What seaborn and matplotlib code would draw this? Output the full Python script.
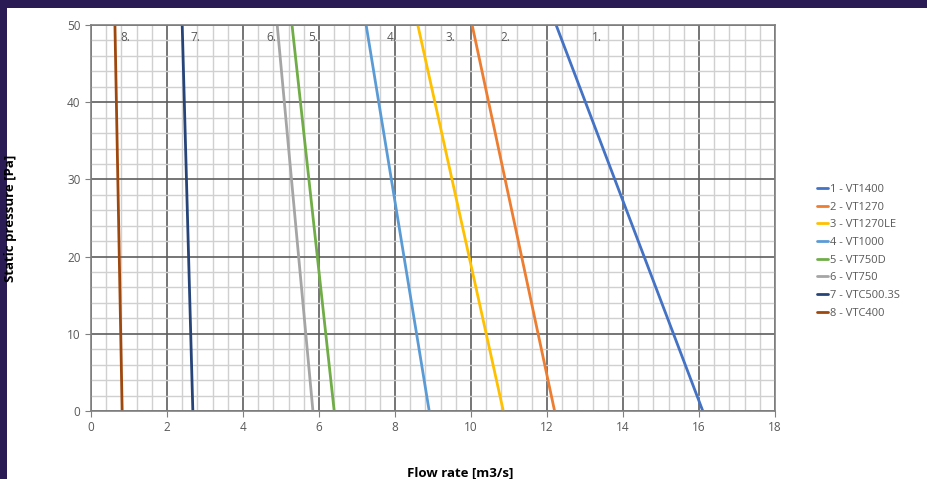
import numpy as np
import pandas as pd
import matplotlib
matplotlib.use("Agg")
import matplotlib.pyplot as plt
from matplotlib.patches import Rectangle
from matplotlib.ticker import MultipleLocator
import seaborn as sns

# fan models and their curves (flow at 0 Pa and at 50 Pa)
models = ["1 - VT1400", "2 - VT1270", "3 - VT1270LE", "4 - VT1000",
          "5 - VT750D", "6 - VT750", "7 - VTC500.3S", "8 - VTC400"]
tags = ["1.", "2.", "3.", "4.", "5.", "6.", "7.", "8."]
flow_at_0 = [16.1, 12.2, 10.85, 8.9, 6.4, 5.84, 2.68, 0.82]
flow_at_50 = [12.24, 10.03, 8.6, 7.24, 5.29, 4.9, 2.4, 0.63]
pressure = [0, 50]
tag_x = [13.3, 10.9, 9.45, 7.9, 5.85, 4.75, 2.75, 0.9]
colors = ["#4472C4", "#ED7D31", "#FFC000", "#5B9BD5",
          "#70AD47", "#A5A5A5", "#264478", "#9E480E"]

rows = []
for m, q0, q50 in zip(models, flow_at_0, flow_at_50):
    rows.append({"model": m, "flow": q0, "pressure": pressure[0]})
    rows.append({"model": m, "flow": q50, "pressure": pressure[1]})
df = pd.DataFrame(rows)

sns.set_style("white")
plt.rcParams['font.family'] = ['Open Sans', 'DejaVu Sans']

fig = plt.figure(figsize=(9.28, 4.79), dpi=100)
fig.patch.set_facecolor("#2a1b55")
fig.patches.append(Rectangle((7 / 928, 0), 1, 1 - 8 / 479, transform=fig.transFigure,
                             facecolor="white", edgecolor="none", zorder=-10))

ax = fig.add_axes([91 / 928, 1 - 411 / 479, 684 / 928, 386 / 479])
sns.lineplot(data=df, x="flow", y="pressure", hue="model", palette=colors,
             sort=False, estimator=None, linewidth=2.0, ax=ax, legend=True)

ax.set_xlim(0, 18)
ax.set_ylim(0, 50)
ax.xaxis.set_major_locator(MultipleLocator(2))
ax.xaxis.set_minor_locator(MultipleLocator(0.4))
ax.yaxis.set_major_locator(MultipleLocator(10))
ax.yaxis.set_minor_locator(MultipleLocator(2))
ax.grid(which="major", color="#5e5e5e", linewidth=1.2, zorder=0)
ax.grid(which="minor", color="#d0d0d0", linewidth=1.0, zorder=0)
ax.set_axisbelow(True)
for s in ax.spines.values():
    s.set_color("#808080")
    s.set_linewidth(1.2)
ax.tick_params(which="major", direction="out", length=4, color="#808080",
               labelsize=8.5, labelcolor="#595959", left=True, bottom=True)
ax.tick_params(which="minor", length=0)

for t, x in zip(tags, tag_x):
    ax.text(x, 48.4, t, fontsize=8.5, color="#595959", ha="center", va="center")

ax.set_xlabel("Flow rate [m3/s]", fontsize=9.5, fontweight="bold", color="black")
ax.set_ylabel("Static pressure [Pa]", fontsize=9.5, fontweight="bold", color="black")
ax.xaxis.set_label_coords(0.54, -0.145)
ax.yaxis.set_label_coords(-0.108, 0.5)

handles, labels = ax.get_legend_handles_labels()
ax.legend(handles, labels, loc="upper left", bbox_to_anchor=(1.055, 0.6),
          frameon=False, fontsize=8, labelcolor="#595959", handlelength=1.0,
          handletextpad=0.2, labelspacing=0.6, borderaxespad=0)

fig.savefig("out.png", dpi=100, facecolor=fig.get_facecolor())
